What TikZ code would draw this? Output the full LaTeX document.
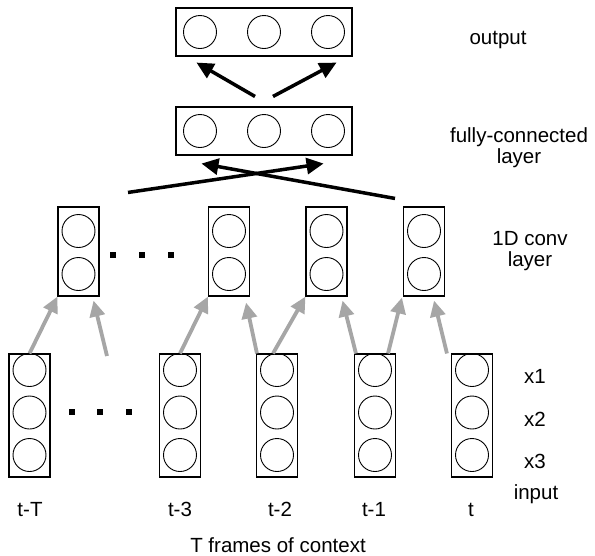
\documentclass[tikz,border=0pt]{standalone}
\usepackage{fontspec}
\setmainfont{Liberation Sans}
\usetikzlibrary{arrows.meta,calc}

\begin{document}
\begin{tikzpicture}[x=1pt,y=-1pt,
  frame/.style={draw=black, line width=1.1pt, inner sep=0pt},
  unit/.style={draw=black, line width=0.9pt, circle, minimum size=33pt, inner sep=0pt},
  dotmark/.style={fill=black, minimum size=6pt, inner sep=0pt},
  feed/.style={draw=black!35, line width=3.8pt, -{Triangle[length=16pt,width=15pt]}},
  dense/.style={draw=black, line width=3.5pt, -{Triangle[length=17pt,width=16pt]}},
  lbl/.style={font=\fontsize{20.5}{22}\selectfont, align=center, inner sep=0pt, anchor=base}]
\useasboundingbox (0,0) rectangle (595,555);

% output layer
\node[frame, minimum width=176pt, minimum height=48pt] (out) at (264,32) {};
\foreach \i/\x in {1/200,2/264,3/328}
  \node[unit] (o\i) at (\x,32) {};

% fully-connected layer
\node[frame, minimum width=176pt, minimum height=48pt] (fc) at (264,131) {};
\foreach \i/\x in {1/200,2/264,3/328}
  \node[unit] (f\i) at (\x,131) {};

% 1D convolution units
\foreach \i/\x in {1/78.5,2/229,3/326.5,4/424}{
  \node[frame, minimum width=41pt, minimum height=89pt] (conv\i) at (\x,251.5) {};
  \node[unit] (conv\i a) at (\x,231) {};
  \node[unit] (conv\i b) at (\x,274) {};
}

% input frames
\foreach \i/\x in {1/29.5,2/180,3/277,4/375,5/472}{
  \node[frame, minimum width=41pt, minimum height=123pt] (in\i) at (\x,415.5) {};
  \node[unit] (in\i a) at (\x,370) {};
  \node[unit] (in\i b) at (\x,412.5) {};
  \node[unit] (in\i c) at (\x,455) {};
}

% ellipsis marks
\foreach \i/\x in {1/113,2/142,3/171}
  \node[dotmark] (cd\i) at (\x,255) {};
\foreach \i/\x in {1/72,2/100,3/129}
  \node[dotmark] (id\i) at (\x,412) {};

% connections from input frames to convolution units
\coordinate (free) at (107,356);
\draw[feed] (in1.north) -- (conv1.south west);
\draw[feed] (free) -- ($(conv1.south east)+(-6,4)$);
\draw[feed] (in2.north) -- (conv2.south west);
\draw[feed] ($(in3.north west)+(1,0)$) -- ($(conv2.south east)+(-4,6)$);
\draw[feed] ($(in3.north)+(-4,0)$) -- (conv3.south west);
\draw[feed] ($(in4.north west)+(2,0)$) -- ($(conv3.south east)+(-5,4)$);
\draw[feed] ($(in4.north)+(13,0)$) -- ($(conv4.south west)+(-1,1)$);
\draw[feed] ($(in5.north west)+(-4,0)$) -- ($(conv4.south east)+(-11,4)$);

% convolution units to fully-connected layer
\coordinate (cl) at ($(conv1.north)+(49.5,-14)$);
\coordinate (cr) at ($(conv4.north)+(-29,-8)$);
\draw[dense] (cl) -- ($(fc.south east)+(-29,8)$);
\draw[dense] (cr) -- ($(fc.south west)+(26,8)$);

% fully-connected layer to output
\draw[dense] ($(fc.north)+(-9,-10)$) -- ($(out.south west)+(21,6)$);
\draw[dense] ($(fc.north)+(9,-10)$) -- ($(out.south east)+(-16,6)$);

% labels
\node[lbl] (lout) at (498,44) {output};
\node[lbl] (lfc1) at (519,142) {fully-connected};
\node[lbl] (lfc2) at (519,163) {layer};
\node[lbl] (lcv1) at (530,245) {1D conv};
\node[lbl] (lcv2) at (530,266) {layer};
\node[lbl] (lx1) at (535,383) {x1};
\node[lbl] (lx2) at (535,426) {x2};
\node[lbl] (lx3) at (535,468) {x3};
\node[lbl] (lin) at (536,499) {input};
\node[lbl] (t1) at (30,516) {t-T};
\node[lbl] (t2) at (180,516) {t-3};
\node[lbl] (t3) at (280,516) {t-2};
\node[lbl] (t4) at (374,516) {t-1};
\node[lbl] (t5) at (471,516) {t};
\node[lbl] (ctx) at (278,552) {T frames of context};
\end{tikzpicture}
\end{document}
